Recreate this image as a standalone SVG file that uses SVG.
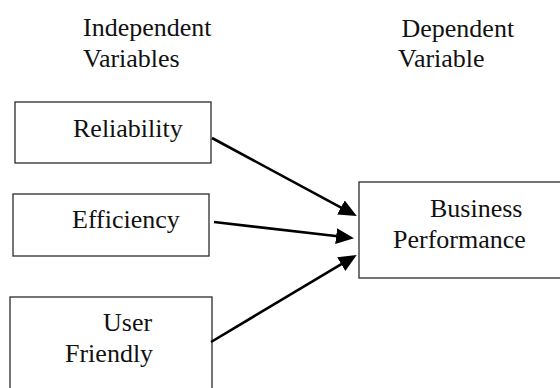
<svg xmlns="http://www.w3.org/2000/svg" width="560" height="388" viewBox="0 0 560 388">
  <style>
    .box { fill: #ffffff; stroke: #2b2b2b; stroke-width: 1.3; }
    .lbl { font-size: 26px; fill: #111111; }
    .conn { stroke: #000000; stroke-width: 2.6; fill: none; marker-end: url(#arrow); }
  </style>
  <defs>
    <marker id="arrow" markerUnits="userSpaceOnUse" markerWidth="19" markerHeight="17" refX="6" refY="8" orient="auto">
      <path d="M0,0 L18,8 L0,16 z" fill="#000000"/>
    </marker>
  </defs>
  <rect width="560" height="388" fill="#ffffff"/>

  <g id="header-independent" font-family="'Liberation Serif', 'DejaVu Serif', serif">
    <text class="lbl" x="83" y="36">Independent</text>
    <text class="lbl" x="83" y="67">Variables</text>
  </g>
  <g id="header-dependent" font-family="'Liberation Serif', 'DejaVu Serif', serif">
    <text class="lbl" x="401.5" y="37">Dependent</text>
    <text class="lbl" x="398" y="67">Variable</text>
  </g>

  <g id="node-reliability" font-family="'Liberation Serif', 'DejaVu Serif', serif">
    <rect class="box" x="15" y="102" width="196" height="61"/>
    <text class="lbl" x="73" y="137">Reliability</text>
  </g>
  <g id="node-efficiency" font-family="'Liberation Serif', 'DejaVu Serif', serif">
    <rect class="box" x="13" y="194" width="196" height="62"/>
    <text class="lbl" x="72" y="228">Efficiency</text>
  </g>
  <g id="node-user-friendly" font-family="'Liberation Serif', 'DejaVu Serif', serif">
    <rect class="box" x="10" y="297" width="202" height="100"/>
    <text class="lbl" x="103" y="331">User</text>
    <text class="lbl" x="65" y="362">Friendly</text>
  </g>
  <g id="node-business-performance" font-family="'Liberation Serif', 'DejaVu Serif', serif">
    <rect class="box" x="359" y="182" width="210" height="96"/>
    <text class="lbl" x="430" y="217">Business</text>
    <text class="lbl" x="393" y="248">Performance</text>
  </g>

  <g id="connectors">
    <line class="conn" x1="212" y1="138" x2="346.2" y2="210.3"/>
    <line class="conn" x1="214" y1="222" x2="342.1" y2="236.8"/>
    <line class="conn" x1="211" y1="342" x2="346.4" y2="261.1"/>
  </g>
</svg>
